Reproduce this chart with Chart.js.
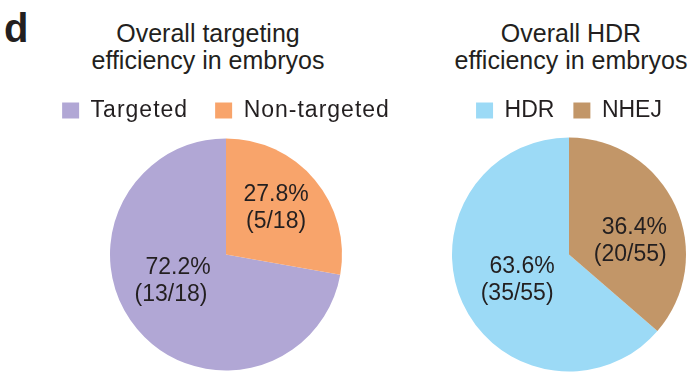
<!DOCTYPE html>
<html>
<head>
<meta charset="utf-8">
<script src="https://cdn.jsdelivr.net/npm/chart.js@4"></script>
<style>
  html, body { margin: 0; padding: 0; background: #ffffff; }
  body { width: 700px; height: 381px; position: relative; overflow: hidden;
         font-family: 'Liberation Sans', Arial, Helvetica, sans-serif; color: #231f20; }
  .panel { position: absolute; top: 0; }
  .title { position: absolute; font-size: 25px; line-height: 27px; text-align: center;
           white-space: nowrap; transform: translateX(-50%); top: 20px; }
  .letter { position: absolute; left: 4px; top: 8px; font-size: 40px; font-weight: bold; line-height: 40px; }
</style>
</head>
<body>
<div class="letter">d</div>
<div class="title" style="left:208px">Overall targeting<br>efficiency in embryos</div>
<div class="title" style="left:571px">Overall HDR<br>efficiency in embryos</div>
<div class="panel" style="left:0px;width:452px;height:381px"><canvas id="c1"></canvas></div>
<div class="panel" style="left:439px;width:260px;height:381px"><canvas id="c2"></canvas></div>
<script>
// ---- data ----
const targetingCategories = ['Targeted', 'Non-targeted'];
const targetingCounts = [13, 5];
const hdrCategories = ['HDR', 'NHEJ'];
const hdrCounts = [35, 20];

const FONT = "'Liberation Sans', Arial, Helvetica, sans-serif";
const TEXT = '#231f20';

const spacing = {
  id: 'spacing',
  beforeUpdate(chart, args, opts) { chart.ctx.letterSpacing = opts.value || '0px'; },
  beforeDraw(chart, args, opts) { chart.ctx.letterSpacing = opts.value || '0px'; }
};

const sliceLabels = {
  id: 'sliceLabels',
  afterDatasetsDraw(chart, args, opts) {
    const ctx = chart.ctx;
    const meta = chart.getDatasetMeta(0);
    const data = chart.data.datasets[0].data;
    const total = data.reduce((a, b) => a + b, 0);
    ctx.save();
    ctx.letterSpacing = '0px';
    ctx.font = opts.size + 'px ' + FONT;
    ctx.fillStyle = TEXT;
    ctx.textAlign = 'center';
    ctx.textBaseline = 'middle';
    meta.data.forEach((arc, i) => {
      const p = arc.getProps(['x', 'y', 'startAngle', 'endAngle', 'outerRadius'], true);
      const pl = opts.place[i];
      const a = (p.startAngle + p.endAngle) / 2 + pl.shift * Math.PI / 180;
      const r = p.outerRadius * pl.factor;
      const cx = p.x + Math.cos(a) * r;
      const cy = p.y + Math.sin(a) * r;
      const pct = (data[i] / total * 100).toFixed(1) + '%';
      ctx.fillText(pct, cx + pl.dx, cy - opts.gap / 2);
      ctx.fillText('(' + data[i] + '/' + total + ')', cx - pl.dx, cy + opts.gap / 2);
    });
    ctx.restore();
  }
};

function makePie(id, labels, counts, colors, legendPad, radius, place, letterSp) {
  const total = counts.reduce((a, b) => a + b, 0);
  return new Chart(document.getElementById(id), {
    type: 'pie',
    data: {
      labels: labels,
      datasets: [{ data: counts, backgroundColor: colors, borderWidth: 0, hoverOffset: 0 }]
    },
    options: {
      responsive: true,
      maintainAspectRatio: false,
      animation: false,
      rotation: 360 * counts[1] / total,
      radius: radius,
      layout: { padding: { top: 99 - legendPad, bottom: 4, left: 0, right: 0 } },
      plugins: {
        legend: {
          display: true,
          position: 'top',
          labels: {
            boxWidth: 17, boxHeight: 16, padding: legendPad,
            color: TEXT, font: { family: FONT, size: 23 }
          }
        },
        tooltip: { enabled: false },
        spacing: { value: letterSp },
        sliceLabels: { size: 23, gap: 27, place: place }
      }
    },
    plugins: [spacing, sliceLabels]
  });
}

makePie('c1', targetingCategories, targetingCounts, ['#b1a7d5', '#f8a46b'], 27, 116,
  [{ factor: 0.50, shift: 12.5, dx: 3.5 }, { factor: 0.59, shift: -3, dx: 0 }], '1px');
makePie('c2', hdrCategories, hdrCounts, ['#9cdaf6', '#c29668'], 19, 117,
  [{ factor: 0.476, shift: -3, dx: 2.5 }, { factor: 0.553, shift: 12.5, dx: 2 }], '0px');
</script>
</body>
</html>
